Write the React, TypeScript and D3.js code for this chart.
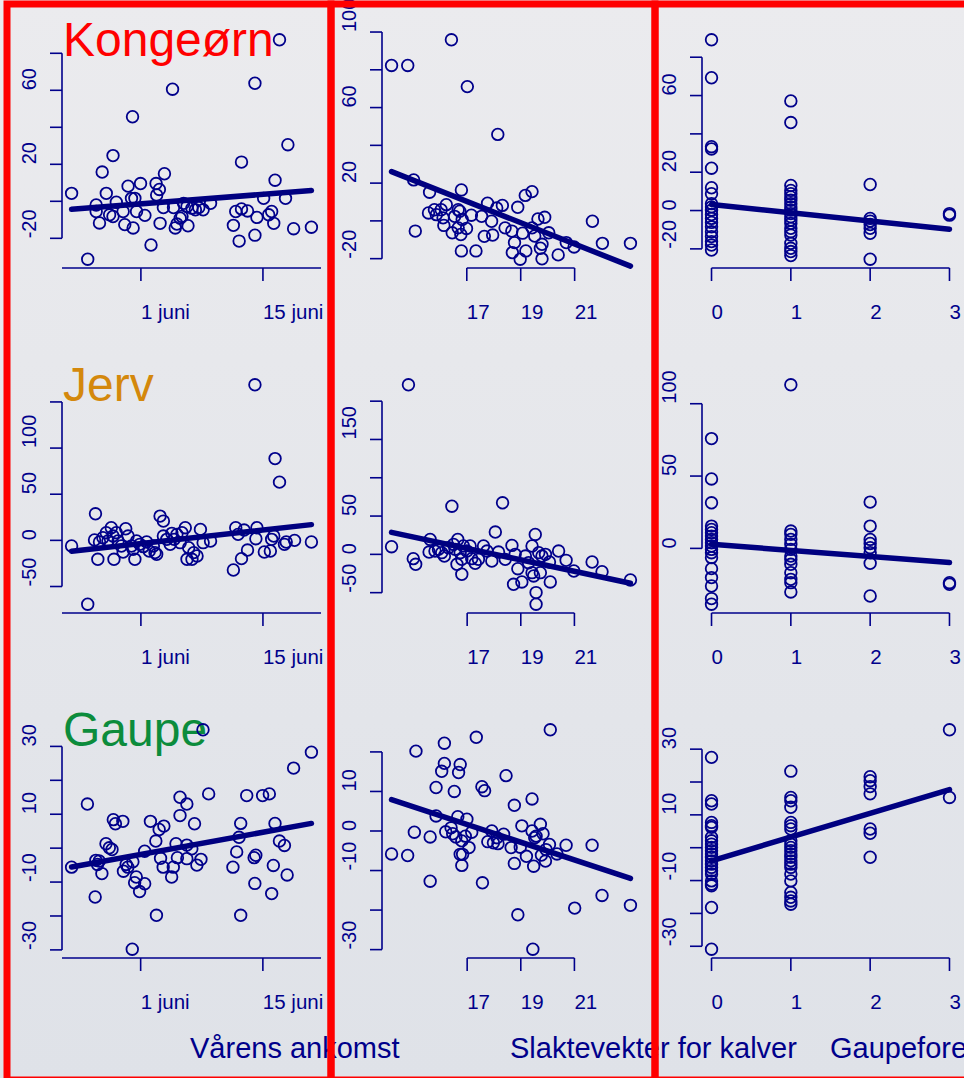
import React from 'react';
import * as d3 from 'd3';

// species (rows) and explanatory variables (columns)
const species = ['Kongeørn', 'Jerv', 'Gaupe'];
const speciesColors = ['#ff0000', '#d4880c', '#0c8c3c'];
const xTitles = ['Vårens ankomst', 'Slaktevekter for kalver', 'Gaupeforekomst'];

// x tick values / labels per column (dates are days relative to 1 juni)
const dateTicks = [0, 14];
const dateTickLabels = ['1 juni', '15 juni'];
const weightTicks = [17, 19, 21];
const weightTickLabels = ['17', '19', '21'];
const lynxTicks = [0, 1, 2, 3];
const lynxTickLabels = ['0', '1', '2', '3'];

// y ticks per panel (row by row) and which of them get a label
const yTicks = [
  [-20, 0, 20, 40, 60, 80], [-20, 0, 20, 40, 60, 80, 100], [-20, 0, 20, 40, 60, 80],
  [-50, 0, 50, 100, 150], [-50, 0, 50, 100, 150, 200], [0, 50, 100],
  [-30, -20, -10, 0, 10, 20, 30], [-30, -20, -10, 0, 10, 20], [-30, -20, -10, 0, 10, 20, 30],
];
const yTickLabels = [
  [-20, 20, 60], [-20, 20, 60, 100], [-20, 0, 20, 60],
  [-50, 0, 50, 100], [-50, 0, 50, 150], [0, 50, 100],
  [-30, -10, 10, 30], [-30, -10, 0, 10], [-30, -10, 10, 30],
];

// Kongeørn
const eagleArrival = [
  [-7.95, 4.3], [-6.1, -31.3], [-5.13, -2.0], [-5.13, -5.5], [-4.75, -11.7], [-4.44, 15.8], [-3.97, 4.3],
  [-3.59, -7.3], [-3.2, 24.7], [-3.2, -8.2], [-2.82, -0.5], [-2.04, -5.5], [-1.85, -12.6], [-1.47, 8.2],
  [-1.08, 1.6], [-0.96, 45.7], [-0.89, -14.4], [-0.69, 1.6], [-0.5, -5.5], [-0.04, 9.6], [0.46, -7.6],
  [1.16, -23.6], [1.74, 9.6], [1.81, 3.4], [2.12, 6.4], [2.2, -11.9], [2.58, -3.4], [2.7, 14.9],
  [3.63, 60.6], [3.74, -3.4], [3.94, -14.4], [4.13, -12.3], [4.51, -9.1], [4.71, -8.2], [4.9, -1.1],
  [5.29, -2.8], [5.4, -13.2], [5.86, -3.7], [6.25, -4.6], [6.64, -3.4], [7.14, -4.6], [7.99, -1.1],
  [10.61, -13.0], [10.88, -5.5], [11.27, -21.5], [11.54, 21.2], [11.54, -4.1], [12.23, -5.2], [13.08, 63.8],
  [13.08, -18.3], [13.31, -8.7], [14.08, 1.6], [14.66, -7.3], [15.0, -5.5], [15.24, -11.9], [15.39, 11.4],
  [15.9, 87.3], [16.59, 1.6], [16.86, 30.6], [17.52, -14.8], [19.56, -14.0],
];
const eagleWeight = [
  [14.21, 82.3], [14.81, 82.3], [15.03, 21.7], [15.09, -5.4], [15.62, 15.2], [15.58, 4.2], [15.8, 5.9],
  [15.87, 3.3], [16.05, 5.9], [16.12, 1.6], [16.15, -2.4], [16.24, 8.6], [16.43, 95.9], [16.46, -6.3],
  [16.55, 2.4], [16.68, 5.9], [16.68, -3.7], [16.74, 5.1], [16.78, -7.2], [16.8, 16.4], [16.83, 0.7],
  [16.8, -15.9], [16.99, -4.0], [17.02, 71.1], [17.17, 3.0], [17.34, -15.9], [17.55, 2.4], [17.65, -8.2],
  [17.77, 9.4], [17.92, -0.2], [17.96, -7.5], [18.11, 6.8], [18.15, 45.8], [18.32, 8.2], [18.42, -3.7],
  [18.67, -5.4], [18.69, -16.8], [18.77, -11.5], [18.89, 7.2], [18.98, -20.3], [19.07, -6.5], [19.19, -15.9],
  [19.17, 13.5], [19.42, 15.5], [19.42, -3.7], [19.52, -8.0], [19.64, 1.0], [19.73, -14.5], [19.79, -20.1],
  [19.79, -12.4], [19.89, 1.9], [20.04, -6.3], [20.39, -18.0], [20.69, -11.5], [20.98, -13.8], [21.66, -0.2],
  [22.03, -11.9], [23.07, -11.9],
];
// values for gaupeforekomst 0, 1, 2, 3
const eagleLynx = [
  [89.1, 69.3, 33.3, 32.1, 22.1, 11.9, 8.8, 3.6, 1.9, 0.2, -2.1, -4.1, -6.2, -8.5, -11.1, -13.6, -16.2, -18.0, -20.6],
  [57.2, 45.9, 13.1, 10.5, 8.8, 7.1, 5.4, 3.6, 1.9, 0.2, -1.6, -3.3, -5.0, -6.7, -9.3, -11.1, -12.8, -17.1, -19.7, -21.4, -23.5],
  [13.6, -4.1, -5.5, -7.3, -9.3, -11.9, -25.4],
  [-1.6, -2.4],
];

// Jerv
const wolverineArrival = [
  [-7.95, -6.1], [-6.1, -69.2], [-5.21, 28.8], [-5.32, 0.4], [-4.94, -20.5], [-4.75, -1.8], [-4.36, 2.9],
  [-3.97, 8.3], [-3.78, -0.7], [-3.4, 13.7], [-3.2, 4.7], [-3.09, -20.5], [-2.82, 8.3], [-2.62, -0.7],
  [-2.24, -6.1], [-2.04, -12.6], [-1.74, 12.6], [-1.47, 4.7], [-1.08, -6.1], [-0.89, -9.7], [-0.69, -20.5],
  [-0.5, -0.7], [-0.12, -4.3], [0.27, -6.8], [0.66, -1.8], [0.96, -11.5], [1.43, -6.1], [1.62, -13.3],
  [1.81, -15.1], [2.2, 26.3], [2.58, 20.9], [2.58, 4.7], [2.97, 1.1], [3.36, -4.3], [3.55, 7.6],
  [3.82, 1.1], [4.13, 6.5], [4.51, -2.5], [4.71, 8.3], [5.09, 13.7], [5.29, -20.5], [5.48, -7.9],
  [5.86, -20.5], [6.06, -13.3], [6.44, -16.9], [6.83, 11.9], [7.14, -2.5], [7.99, -0.7], [10.61, -32.1],
  [10.88, 13.7], [11.15, 6.5], [11.54, -19.8], [11.84, 11.2], [12.23, -10.5], [13.08, 168.6], [13.19, 1.8],
  [13.31, 13.7], [14.16, -12.6], [14.85, -11.5], [15.0, 1.1], [15.24, 4.7], [15.39, 88.6], [15.9, 63.1],
  [16.47, -4.3], [16.67, -1.8], [17.63, 0], [19.56, -1.8],
];
const wolverineWeight = [
  [14.18, 10.0], [14.81, 221.4], [14.99, -5.6], [15.08, -13.0], [15.58, 3.0], [15.62, 19.5], [15.8, 4.3],
  [15.93, 6.5], [16.05, 2.2], [16.15, -2.2], [16.3, 8.7], [16.43, 62.9], [16.49, 13.0], [16.55, 6.5],
  [16.62, -13.0], [16.65, 19.5], [16.74, 2.2], [16.8, -26.0], [16.8, -6.5], [16.86, 10.9], [16.99, 4.3],
  [17.11, 10.9], [17.17, -5.6], [17.3, -11.7], [17.42, -6.5], [17.61, 10.9], [17.74, 4.3], [17.92, -8.7],
  [18.05, 29.1], [18.17, 3.0], [18.32, 67.3], [18.42, -6.5], [18.67, 11.7], [18.73, -39.1], [18.79, 0],
  [18.89, -18.7], [19.04, -36.0], [19.17, -2.2], [19.29, -10.9], [19.42, 10.9], [19.42, -23.9], [19.48, -28.2],
  [19.54, 26.0], [19.57, -49.9], [19.57, -65.1], [19.67, 2.2], [19.73, -23.9], [19.79, -2.2], [19.92, 0],
  [20.07, -10.0], [20.1, -36.0], [20.41, 4.3], [20.69, -7.8], [20.98, -21.7], [21.66, -10.0], [22.03, -22.6],
  [23.09, -33.4],
];
const wolverineLynx = [
  [75.9, 48.0, 31.5, 15.4, 13.1, 10.8, 8.5, 6.2, 3.9, 1.6, -0.7, -3.0, -6.4, -14.0, -20.2, -26.0, -34.7, -38.6],
  [113.1, 12.0, 9.7, 6.2, 2.8, -0.7, -5.3, -7.6, -11.0, -16.8, -21.4, -23.7, -30.1],
  [32.0, 15.4, 6.2, 3.4, 0.5, -3.0, -10.3, -32.9],
  [-23.7, -24.8],
];

// Gaupe
const lynxArrival = [
  [-7.91, -5.6], [-6.1, 13.0], [-5.21, -14.4], [-5.13, -3.6], [-4.94, -4.8], [-4.75, -3.8], [-4.44, -7.5],
  [-3.97, 1.3], [-3.59, 0.1], [-3.28, -0.4], [-3.13, 8.4], [-2.89, 7.2], [-2.04, 7.9], [-1.97, -6.8],
  [-1.66, -4.8], [-1.47, -5.6], [-0.96, -29.8], [-0.89, -4.0], [-0.69, -10.2], [-0.5, -8.5], [-0.12, -12.8],
  [0.46, -10.5], [0.46, -0.9], [1.12, 7.9], [1.74, 2.1], [1.81, -19.8], [2.12, 5.5], [2.28, -3.0],
  [2.66, 6.5], [2.58, -5.6], [3.55, -8.5], [3.74, -5.6], [4.05, 1.3], [4.21, -2.8], [4.51, 15.0],
  [4.51, 9.6], [5.29, 13.0], [5.29, 0.9], [5.29, -3.1], [5.86, -0.2], [6.17, 7.2], [6.44, -5.0],
  [6.91, -3.3], [7.14, 34.9], [7.79, 16.0], [10.57, -5.6], [11.0, -1.1], [11.27, 3.2], [11.46, 7.3],
  [11.46, -19.8], [12.15, 15.5], [13.0, -2.8], [13.19, -2.1], [13.08, -10.4], [13.97, 15.5], [14.74, 16.0],
  [15.01, -13.4], [15.2, -5.1], [15.39, 7.3], [15.9, 2.1], [16.47, 0.8], [16.78, -7.9], [17.52, 23.6],
  [19.56, 28.3],
];
const lynxWeight = [
  [14.18, -5.8], [14.78, -6.2], [15.03, -0.3], [15.09, 20.2], [15.62, -1.5], [15.62, -12.7], [15.84, 11.0],
  [15.84, 3.8], [16.05, 15.1], [16.15, 17.1], [16.15, 22.2], [16.2, -0.2], [16.4, 0.8], [16.46, -0.7],
  [16.52, 10.0], [16.58, -1.5], [16.65, 3.6], [16.68, 14.8], [16.74, 16.8], [16.74, -5.9], [16.8, -2.5],
  [16.8, -8.7], [16.83, -5.9], [16.93, -1.3], [16.99, 3.0], [17.07, -4.2], [17.17, -0.3], [17.34, 23.7],
  [17.55, 11.2], [17.57, -13.1], [17.65, 10.2], [17.77, -2.7], [17.92, 0], [17.98, -3.0], [18.11, -1.7],
  [18.15, -3.2], [18.36, -0.8], [18.45, 14.0], [18.64, -4.2], [18.76, 6.5], [18.76, -8.2], [18.89, -21.2],
  [18.98, -4.1], [19.04, 1.3], [19.21, -6.4], [19.42, 0], [19.42, 8.1], [19.45, -29.9], [19.48, -8.9],
  [19.52, -1.7], [19.57, -1.3], [19.73, 1.7], [19.77, -6.1], [19.83, -0.7], [19.92, -7.6], [19.94, -4.7],
  [20.07, -3.4], [20.1, 25.6], [20.35, -5.8], [20.69, -3.6], [21.01, -19.5], [21.66, -3.6], [22.03, -16.3],
  [23.09, -18.8],
];
const lynxLynx = [
  [27.5, 14.3, 13.3, 7.7, 6.7, 6.2, 3.2, 2.1, 1.1, 0.1, -0.9, -1.9, -2.9, -4.0, -5.0, -6.0, -7.0, -8.0, -10.1, -11.1, -11.6, -18.2, -30.9],
  [23.3, 15.3, 14.3, 12.3, 7.7, 6.7, 5.7, 2.1, 1.1, 0.1, -0.9, -1.9, -2.9, -4.0, -5.0, -6.0, -8.0, -10.1, -13.6, -15.1, -16.2, -17.2],
  [21.6, 20.4, 18.6, 16.4, 5.7, 4.4, -2.9],
  [35.9, 15.3],
];

// fitted lines: [intercept, slope], row by row
const fits = [
  [-1.37, 0.367], [106.4, -5.65], [3.1, -4.3],
  [-3.5, 1.05], [134.5, -7.46], [2.8, -4.17],
  [-1.86, 0.468], [39.65, -2.236], [-4.0, 7.23],
];

const W = 964;
const H = 1078;
const ink = '#00008b';
const colX = [[62, 321], [382, 640], [702, 959]];
const rowY = [[268, 31], [613, 376], [958, 721]];
const frameX = [7, 331, 655, 1000];

const levels = (lv) => lv.flatMap((vals, k) => vals.map((v) => [k, v]));
const panelData = [
  eagleArrival, eagleWeight, levels(eagleLynx),
  wolverineArrival, wolverineWeight, levels(wolverineLynx),
  lynxArrival, lynxWeight, levels(lynxLynx),
];
const xTicksByCol = [dateTicks, weightTicks, lynxTicks];
const xLabelsByCol = [dateTickLabels, weightTickLabels, lynxTickLabels];

// R-style 4% padding
function padded(ext) {
  const p = (ext[1] - ext[0]) * 0.04;
  return [ext[0] - p, ext[1] + p];
}

function Panel({ idx }) {
  const col = idx % 3;
  const row = Math.floor(idx / 3);
  const pts = panelData[idx];
  const xExt = d3.extent(pts, (d) => d[0]);
  const x = d3.scaleLinear().domain(padded(xExt)).range(colX[col]);
  const y = d3.scaleLinear().domain(padded(d3.extent(pts, (d) => d[1]))).range(rowY[row]);
  const [a, b] = fits[idx];
  const fitPath = d3.line()(xExt.map((v) => [x(v), y(a + b * v)]));

  const xt = xTicksByCol[col];
  const base = rowY[row][0];
  const left = colX[col][0];
  const xLine = col === 0 ? colX[col] : [x(xt[0]), x(xt[xt.length - 1])];
  const yt = yTicks[idx];

  return (
    <g>
      {/* x axis */}
      <line x1={xLine[0]} x2={xLine[1]} y1={base} y2={base} stroke={ink} strokeWidth={1.6} />
      {xt.map((t, i) => (
        <g key={'xt' + i}>
          <line x1={x(t)} x2={x(t)} y1={base} y2={base + 13} stroke={ink} strokeWidth={1.6} />
          <text x={x(t)} y={base + 51} fill={ink} fontSize={20.5}>{xLabelsByCol[col][i]}</text>
        </g>
      ))}
      {/* y axis */}
      <line x1={left} x2={left} y1={y(yt[0])} y2={y(yt[yt.length - 1])} stroke={ink} strokeWidth={1.6} />
      {yt.map((t, i) => (
        <line key={'yt' + i} x1={left - 12} x2={left} y1={y(t)} y2={y(t)} stroke={ink} strokeWidth={1.6} />
      ))}
      {yTickLabels[idx].map((t, i) => (
        <text key={'yl' + i} transform={`translate(${left - 26},${y(t)}) rotate(-90)`} fill={ink} fontSize={20}>
          {t}
        </text>
      ))}
      {/* points */}
      {pts.map((d, i) => (
        <circle key={'p' + i} cx={x(d[0])} cy={y(d[1])} r={5.8} fill="none" stroke={ink} strokeWidth={1.8} />
      ))}
      <path d={fitPath} fill="none" stroke="#000080" strokeWidth={5.5} strokeLinecap="round" />
    </g>
  );
}

export default function App() {
  return (
    <div style={{ position: 'fixed', left: 0, top: 0 }}>
      <svg width={W} height={H} style={{ display: 'block' }} fontFamily="'Liberation Sans', Arial, sans-serif">
        <defs>
          <linearGradient id="bg" x1="0" y1="0" x2="0" y2="1">
            <stop offset="0" stopColor="#ebebee" />
            <stop offset="1" stopColor="#dfe2e8" />
          </linearGradient>
        </defs>
        <rect width={W} height={H} fill="url(#bg)" />

        {species.map((s, i) => (
          <text key={s} x={63} y={rowY[i][1] + 25} fill={speciesColors[i]} fontSize={48}>{s}</text>
        ))}

        {panelData.map((_, i) => <Panel key={i} idx={i} />)}

        {xTitles.map((t, i) => (
          <text key={t} x={[190, 510, 830][i]} y={1058} fill={ink} fontSize={29}>{t}</text>
        ))}

        {[0, 1, 2].map((i) => (
          <rect key={'f' + i} x={frameX[i]} y={4} width={frameX[i + 1] - frameX[i]} height={1076}
            fill="none" stroke="#ff0000" strokeWidth={7} />
        ))}
      </svg>
    </div>
  );
}
